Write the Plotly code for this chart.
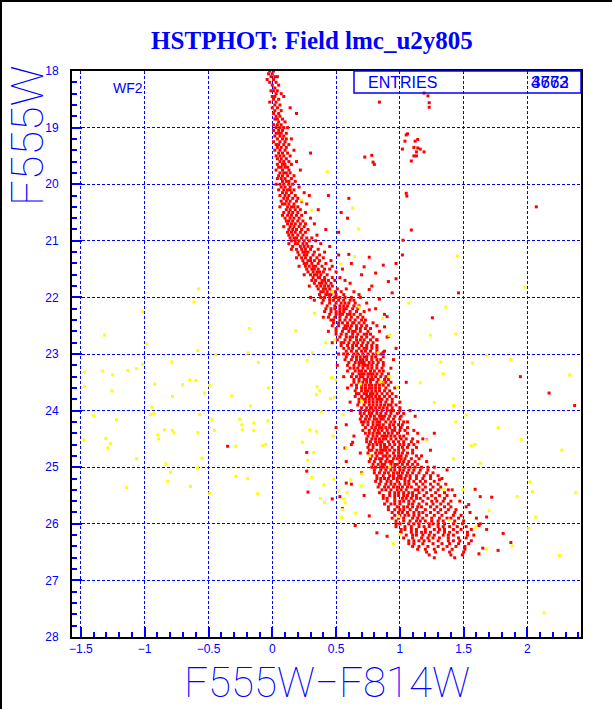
import plotly.graph_objects as go

# ---------------- data ----------------
# main-sequence band: magnitude rows (F555W) and the colours (F555W-F814W) of the red points in each row
band_mags = [
    18.00, 18.05, 18.10, 18.15, 18.20, 18.25, 18.30, 18.35, 18.40, 18.45,
    18.50, 18.55, 18.60, 18.65, 18.70, 18.75, 18.80, 18.85, 18.90, 18.95,
    19.00, 19.05, 19.10, 19.15, 19.20, 19.25, 19.30, 19.35, 19.40, 19.45,
    19.50, 19.55, 19.60, 19.65, 19.70, 19.75, 19.80, 19.85, 19.90, 19.95,
    20.00, 20.05, 20.10, 20.15, 20.20, 20.25, 20.30, 20.35, 20.40, 20.45,
    20.50, 20.55, 20.60, 20.65, 20.70, 20.75, 20.80, 20.85, 20.90, 20.95,
    21.00, 21.05, 21.10, 21.15, 21.20, 21.25, 21.30, 21.35, 21.40, 21.45,
    21.50, 21.55, 21.60, 21.65, 21.70, 21.75, 21.80, 21.85, 21.90, 21.95,
    22.00, 22.05, 22.10, 22.15, 22.20, 22.25, 22.30, 22.35, 22.40, 22.45,
    22.50, 22.55, 22.60, 22.65, 22.70, 22.75, 22.80, 22.85, 22.90, 22.95,
    23.00, 23.05, 23.10, 23.15, 23.20, 23.25, 23.30, 23.35, 23.40, 23.45,
    23.50, 23.55, 23.60, 23.65, 23.70, 23.75, 23.80, 23.85, 23.90, 23.95,
    24.00, 24.05, 24.10, 24.15, 24.20, 24.25, 24.30, 24.35, 24.40, 24.45,
    24.50, 24.55, 24.60, 24.65, 24.70, 24.75, 24.80, 24.85, 24.90, 24.95,
    25.00, 25.05, 25.10, 25.15, 25.20, 25.25, 25.30, 25.35, 25.40, 25.45,
    25.50, 25.55, 25.60, 25.65, 25.70, 25.75, 25.80, 25.85, 25.90, 25.95,
    26.00, 26.05, 26.10, 26.15, 26.20, 26.25, 26.30, 26.35, 26.40, 26.45,
    26.50, 26.55, 26.60,
]

band_colors = [
    # 18.00 - 18.95
    [-0.02, 0.01], [0.0, -0.03], [0.02, -0.01, 0.04], [-0.04, 0.01], [0.03, -0.02],
    [0.0, 0.05], [0.02], [-0.01, 0.04, 0.01], [0.03, 0.07], [0.0, 0.09, 0.02],
    [0.05, 0.01], [0.03, -0.02], [0.06, 0.02], [0.04, 0.14, 0.0], [0.02, 0.07],
    [0.05, 0.19, 0.01], [0.03, 0.06], [0.08, 0.02, 0.04], [0.05, 0.1], [0.01, 0.07, 0.04],
    # 19.00 - 19.95
    [0.03, 0.09, 0.06, 0.12], [0.05, 0.01, 0.08], [0.07, 0.03, 0.11, 0.05], [0.02, 0.09, 0.06],
    [0.08, 0.04, 0.15, 0.11], [0.06, 0.01, 0.1], [0.09, 0.05, 0.13, 0.03], [0.07, 0.11, 0.04],
    [0.1, 0.02, 0.06, 0.17], [0.05, 0.12, 0.08, 0.3], [0.09, 0.03, 0.14, 0.06], [0.11, 0.07, 0.04],
    [0.06, 0.13, 0.09, 0.19], [0.1, 0.04, 0.08, 0.15], [0.07, 0.12, 0.05, 0.1], [0.13, 0.08, 0.03, 0.22],
    [0.09, 0.06, 0.14, 0.11], [0.12, 0.05, 0.08, 0.17], [0.07, 0.15, 0.1, 0.04], [0.11, 0.08, 0.18, 0.13],
    # 20.00 - 20.95
    [0.06, 0.13, 0.09, 0.16, 0.03], [0.1, 0.07, 0.14, 0.21], [0.12, 0.05, 0.17, 0.09, 0.14],
    [0.08, 0.15, 0.11, 0.25], [0.13, 0.06, 0.18, 0.1, 0.44, 0.29], [0.09, 0.16, 0.12, 0.2, 0.6],
    [0.14, 0.07, 0.11, 0.19, 0.23], [0.1, 0.17, 0.13, 0.08, 0.27], [0.15, 0.12, 0.2, 0.06, 0.17],
    [0.11, 0.18, 0.14, 0.22, 0.36], [0.16, 0.09, 0.13, 0.2, 0.54, 0.26], [0.12, 0.19, 0.15, 0.08, 0.23],
    [0.17, 0.14, 0.21, 0.1, 0.59, 0.3], [0.13, 0.2, 0.16, 0.24, 0.11], [0.18, 0.12, 0.15, 0.22, 0.33, 0.26],
    [0.14, 0.21, 0.17, 0.09, 0.25], [0.19, 0.13, 0.23, 0.16, 0.42, 0.28], [0.15, 0.22, 0.18, 0.12, 0.52, 0.26],
    [0.2, 0.16, 0.24, 0.13, 0.35], [0.17, 0.23, 0.19, 0.27, 0.14, 0.31],
    # 21.00 - 21.95
    [0.21, 0.15, 0.25, 0.18, 0.29, 0.34], [0.18, 0.24, 0.2, 0.27, 0.13, 0.38], [0.22, 0.16, 0.28, 0.25, 0.45, 0.31],
    [0.19, 0.26, 0.23, 0.3, 0.36, 0.15], [0.24, 0.2, 0.28, 0.33, 0.26, 0.41], [0.21, 0.27, 0.32, 0.25, 0.52, 0.37],
    [0.26, 0.23, 0.3, 0.35, 0.19, 0.4], [0.28, 0.24, 0.33, 0.37, 0.3, 0.46], [0.25, 0.31, 0.27, 0.36, 0.62, 0.42],
    [0.29, 0.34, 0.26, 0.39, 0.32, 0.47, 0.21], [0.31, 0.27, 0.36, 0.33, 0.41, 0.55, 0.45], [0.28, 0.35, 0.32, 0.4, 0.37, 0.5],
    [0.33, 0.3, 0.38, 0.43, 0.35, 0.7, 0.25], [0.36, 0.32, 0.41, 0.37, 0.47, 0.53], [0.34, 0.39, 0.31, 0.44, 0.41, 0.57, 0.49],
    [0.37, 0.33, 0.42, 0.46, 0.39, 0.61], [0.35, 0.41, 0.38, 0.47, 0.44, 0.78, 0.29], [0.4, 0.36, 0.45, 0.42, 0.51, 0.58],
    [0.38, 0.43, 0.47, 0.4, 0.54, 0.49, 0.64], [0.42, 0.37, 0.46, 0.5, 0.44, 0.56, 0.68],
    # 22.00 - 22.95
    [0.41, 0.49, 0.57, 0.45, 0.53, 0.62, 0.38, 0.50, 0.30, 0.69],
    [0.48, 0.40, 0.56, 0.61, 0.45, 0.52, 0.64, 0.33],
    [0.45, 0.54, 0.60, 0.39, 0.50, 0.65, 0.57, 0.74],
    [0.53, 0.43, 0.59, 0.49, 0.64, 0.56, 0.68],
    [0.42, 0.58, 0.49, 0.63, 0.53, 0.67, 0.46, 0.56, 0.81],
    [0.53, 0.61, 0.46, 0.66, 0.56, 0.41, 0.50, 0.72],
    [0.50, 0.59, 0.45, 0.64, 0.55, 0.69, 0.53, 0.61, 0.88],
    [0.58, 0.49, 0.67, 0.53, 0.62, 0.44, 0.71, 0.40],
    [0.48, 0.65, 0.57, 0.70, 0.53, 0.61, 0.46, 0.73],
    [0.55, 0.63, 0.48, 0.68, 0.59, 0.52, 0.72, 0.79, 0.64],
    [0.52, 0.62, 0.70, 0.57, 0.74, 0.47, 0.66, 0.59, 0.82],
    [0.66, 0.56, 0.73, 0.50, 0.61, 0.69, 0.77, 0.58],
    [0.60, 0.50, 0.69, 0.55, 0.65, 0.75, 0.63, 0.84, 0.44],
    [0.54, 0.72, 0.63, 0.58, 0.77, 0.67, 0.50, 0.74],
    [0.66, 0.58, 0.74, 0.53, 0.63, 0.70, 0.79, 0.61, 0.90],
    [0.61, 0.72, 0.51, 0.66, 0.77, 0.57, 0.69, 0.82],
    [0.56, 0.71, 0.64, 0.79, 0.60, 0.75, 0.67, 0.47, 0.54],
    [0.66, 0.78, 0.59, 0.70, 0.54, 0.74, 0.82, 0.63],
    [0.63, 0.72, 0.56, 0.78, 0.68, 0.82, 0.60, 0.74, 0.97],
    [0.70, 0.58, 0.77, 0.66, 0.82, 0.62, 0.73, 0.88],
    # 23.00 - 23.95
    [0.67, 0.59, 0.75, 0.82, 0.64, 0.71, 0.85, 0.56, 0.79, 0.52],
    [0.63, 0.74, 0.81, 0.69, 0.58, 0.78, 0.66, 0.87, 0.72],
    [0.71, 0.62, 0.78, 0.85, 0.66, 0.74, 0.57, 0.82, 0.69, 0.95],
    [0.60, 0.76, 0.68, 0.83, 0.65, 0.72, 0.79, 0.87, 0.70],
    [0.68, 0.59, 0.75, 0.82, 0.64, 0.78, 0.71, 0.87, 0.51, 0.73],
    [0.75, 0.67, 0.82, 0.61, 0.71, 0.86, 0.78, 0.64, 0.93],
    [0.65, 0.73, 0.80, 0.70, 0.87, 0.59, 0.77, 0.84, 0.68],
    [0.72, 0.63, 0.79, 0.86, 0.68, 0.75, 0.82, 0.91, 0.70, 0.77],
    [0.66, 0.78, 0.71, 0.85, 0.62, 0.75, 0.81, 0.89, 0.56, 0.69],
    [0.74, 0.83, 0.68, 0.79, 0.64, 0.88, 0.72, 0.77, 0.91],
    [0.71, 0.82, 0.64, 0.77, 0.89, 0.74, 0.86, 0.68, 0.93, 1.05],
    [0.78, 0.66, 0.73, 0.87, 0.70, 0.81, 0.91, 0.76, 0.62, 0.84],
    [0.70, 0.81, 0.76, 0.89, 0.66, 0.84, 0.73, 0.96, 0.78, 0.59],
    [0.75, 0.65, 0.84, 0.78, 0.92, 0.70, 0.81, 0.88, 0.73],
    [0.68, 0.79, 0.86, 0.74, 0.94, 0.82, 0.66, 0.77, 0.90, 0.72],
    [0.78, 0.70, 0.84, 0.92, 0.74, 0.81, 0.88, 0.65, 0.97, 0.76],
    [0.73, 0.86, 0.79, 0.68, 0.90, 0.82, 0.76, 0.94, 0.71, 0.84],
    [0.82, 0.68, 0.76, 0.89, 0.79, 0.94, 0.73, 0.85, 1.00, 0.61],
    [0.72, 0.85, 0.79, 0.93, 0.67, 0.88, 0.76, 0.82, 0.97, 0.91],
    [0.78, 0.70, 0.87, 0.81, 0.94, 0.74, 0.84, 0.90, 1.00, 0.77],
    # 24.00 - 24.95
    [0.73, 0.86, 0.79, 0.95, 0.69, 0.90, 0.82, 1.00, 0.76, 0.93, 0.62, 1.08],
    [0.82, 0.72, 0.89, 0.78, 0.98, 0.85, 0.93, 0.69, 1.03, 0.76],
    [0.77, 0.92, 0.84, 0.70, 0.96, 0.80, 0.88, 0.74, 1.01, 0.86, 1.12],
    [0.87, 0.76, 0.82, 0.95, 0.69, 0.91, 0.80, 1.00, 0.73, 0.85],
    [0.72, 0.84, 0.96, 0.79, 0.89, 1.03, 0.75, 0.93, 0.82, 1.06, 0.70],
    [0.82, 0.92, 0.75, 0.87, 0.99, 0.79, 0.95, 0.71, 0.84, 0.58, 1.02],
    [0.78, 0.89, 0.96, 0.73, 0.84, 1.01, 0.81, 0.92, 0.86, 1.06],
    [0.86, 0.76, 0.94, 0.83, 1.00, 0.71, 0.90, 0.80, 1.04, 0.96, 1.11],
    [0.73, 0.84, 0.91, 0.79, 0.98, 0.88, 1.06, 0.82, 0.94, 0.76, 1.14],
    [0.82, 0.90, 0.75, 0.96, 0.86, 1.03, 0.79, 0.93, 1.00, 0.64, 0.88],
    [0.78, 0.89, 0.97, 0.84, 1.05, 0.74, 0.93, 1.01, 0.81, 1.10, 0.87, 1.18],
    [0.86, 0.95, 0.77, 1.03, 0.91, 0.81, 0.99, 1.09, 0.84, 0.74, 1.14],
    [0.82, 0.92, 1.00, 0.76, 0.88, 1.07, 0.96, 0.85, 1.11, 0.79, 0.62, 1.03],
    [0.90, 0.79, 0.99, 0.85, 1.06, 0.94, 0.75, 1.02, 0.88, 1.13],
    [0.76, 0.87, 0.96, 0.82, 1.03, 0.92, 1.10, 0.85, 0.99, 0.78, 1.24, 0.89],
    [0.86, 0.95, 0.81, 1.02, 0.90, 1.10, 0.75, 0.99, 1.06, 0.84, 0.69],
    [0.92, 0.78, 1.01, 0.87, 1.13, 0.96, 0.82, 1.05, 0.89, 1.17, 0.99],
    [0.84, 0.95, 1.04, 0.77, 0.90, 1.09, 0.98, 0.86, 1.15, 0.81, 1.01],
    [0.89, 1.00, 0.80, 0.94, 1.07, 0.85, 1.12, 1.03, 0.76, 0.92, 1.21, 0.58],
    [0.83, 0.98, 0.88, 1.06, 0.93, 1.14, 0.79, 1.02, 1.10, 0.86, 0.96],
    # 25.00 - 25.95
    [0.87, 1.00, 0.81, 1.08, 0.93, 1.17, 1.04, 0.85, 1.12, 0.96, 1.22, 0.90, 0.78, 1.27],
    [0.93, 1.07, 0.85, 1.00, 1.16, 0.89, 1.11, 0.80, 1.03, 1.22, 0.96],
    [0.84, 0.98, 1.15, 0.91, 1.06, 1.21, 0.80, 1.02, 1.10, 0.88, 0.95, 1.26, 0.70],
    [0.92, 1.05, 0.82, 1.13, 0.99, 0.87, 1.19, 1.08, 0.95, 1.24, 1.01, 1.30],
    [0.88, 1.01, 1.13, 0.95, 0.82, 1.08, 1.24, 0.91, 1.18, 1.04, 0.85, 0.98, 1.33],
    [0.98, 0.85, 1.11, 0.93, 1.20, 1.04, 0.81, 1.16, 0.90, 1.07, 1.27],
    [0.93, 1.07, 0.84, 1.18, 1.00, 1.24, 0.89, 1.13, 0.96, 1.30, 1.04, 1.36, 0.62],
    [1.02, 0.88, 1.15, 0.95, 1.09, 1.26, 0.83, 1.20, 0.98, 0.91, 1.06, 1.32],
    [0.86, 0.98, 1.12, 1.24, 0.93, 1.18, 1.05, 1.30, 0.89, 1.01, 1.14, 1.38],
    [0.96, 1.10, 0.84, 1.21, 1.03, 1.28, 0.92, 1.15, 0.99, 1.35, 1.07],
    [0.92, 1.06, 1.19, 0.99, 1.31, 0.87, 1.13, 1.25, 1.03, 1.37, 0.96, 1.10, 1.43, 0.72],
    [1.02, 1.16, 0.90, 1.28, 1.09, 0.96, 1.22, 1.35, 1.05, 0.87, 1.13],
    [0.96, 1.11, 1.25, 1.00, 1.34, 0.90, 1.18, 1.07, 1.40, 1.03, 1.29, 1.47],
    [1.07, 0.93, 1.21, 1.00, 1.32, 1.15, 0.88, 1.26, 1.10, 1.38, 0.96],
    [1.03, 1.17, 0.91, 1.29, 1.10, 1.40, 0.98, 1.24, 1.06, 1.35, 1.14, 1.52],
    [0.96, 1.13, 1.27, 1.03, 1.38, 1.20, 0.91, 1.32, 1.08, 1.44, 1.00],
    [1.11, 0.94, 1.24, 1.02, 1.36, 1.18, 1.43, 1.06, 1.30, 0.99, 1.15, 1.55],
    [1.04, 1.21, 0.96, 1.33, 1.11, 1.42, 1.27, 1.00, 1.15, 1.48, 1.07],
    [0.94, 1.10, 1.25, 1.03, 1.37, 1.18, 1.46, 1.31, 0.99, 1.14, 1.40, 1.60],
    [1.03, 1.20, 1.08, 1.34, 0.97, 1.25, 1.43, 1.13, 1.30, 1.50, 1.16],
    # 26.00 - 26.60
    [1.00, 1.15, 1.30, 1.07, 1.42, 1.23, 1.49, 0.97, 1.35, 1.11, 1.26, 1.63],
    [1.09, 1.23, 1.39, 1.04, 1.30, 1.15, 1.52, 0.97, 1.34, 1.19, 1.45],
    [1.04, 1.20, 1.35, 1.13, 1.48, 1.27, 1.01, 1.42, 1.09, 1.31, 1.56, 1.68],
    [1.17, 1.01, 1.30, 1.09, 1.45, 1.24, 1.39, 1.53, 1.13, 1.35, 1.20],
    [1.10, 1.27, 1.42, 1.05, 1.34, 1.18, 1.53, 1.13, 1.38, 1.23, 1.58],
    [1.17, 1.03, 1.31, 1.46, 1.10, 1.38, 1.22, 1.52, 1.26],
    [1.07, 1.23, 1.38, 1.15, 1.47, 1.30, 1.56, 1.11, 1.42, 1.19],
    [1.18, 1.33, 1.11, 1.46, 1.26, 1.54, 1.39, 1.07],
    [1.15, 1.30, 1.44, 1.22, 1.51, 1.37, 1.10],
    [1.27, 1.14, 1.41, 1.51, 1.34, 1.20],
    [1.21, 1.39, 1.50, 1.28],
    [1.23, 1.40, 1.49],
    [1.27, 1.43],
]

# isolated red stars (giants, outliers)
red_sparse_color = [
    0.84, 0.725, 0.78, 0.79, 0.80, 1.19, 1.22, 1.23, 1.23,
    1.05, 1.06, 1.04, 1.14, 1.12, 1.02, 1.11, 1.14, 1.16, 1.19, 1.13, 1.11, 1.09, 1.13,
    1.05, 1.055, 2.07, 1.09, 1.025, 1.02, 1.46, 1.255, 2.17, 2.37, 1.945,
    0.97, 0.87, 0.76, 0.72, 0.81, 0.91, 0.94, 0.76, 0.6, 0.97,
    0.84, 0.76, 0.9, 0.88, 0.82, 0.91, 0.87,
    0.27, 0.28, 0.47, 0.55, 0.65, 0.76, 0.57, 0.5, 0.63, 0.58, 0.53, 0.82, 0.9, -0.35, 0.27,
    1.27, 1.37, 1.41, 1.21, 1.31,
    1.59, 1.63, 1.68, 1.81, 1.77, 1.62, 1.87, 1.54, 1.62, 1.65, 1.72,
]
red_sparse_mag = [
    18.55, 19.52, 19.49, 19.61, 19.65, 18.39, 18.44, 18.56, 18.64,
    19.13, 19.11, 19.24, 19.21, 19.24, 19.38, 19.35, 19.36, 19.38, 19.43, 19.43, 19.5, 19.59, 19.5,
    20.16, 20.21, 20.4, 20.81, 20.99, 21.25, 21.92, 22.36, 23.69, 23.91, 23.4,
    21.4, 21.43, 21.29, 21.46, 21.57, 21.72, 21.92, 21.86, 21.24, 21.67,
    22.03, 22.22, 22.34, 22.52, 22.75, 22.69, 22.97,
    25.07, 25.44, 25.56, 25.73, 26.03, 25.86, 24.66, 24.3, 24.56, 25.28, 25.52, 26.16, 26.22, 24.63, 24.74,
    24.4, 25.05, 25.4, 24.52, 25.22,
    25.39, 25.52, 25.88, 26.17, 26.47, 26.53, 26.33, 25.66, 26.03, 26.43, 25.53,
]

# yellow points (field stars)
yellow_color = [
    0.43, 0.63, 0.675, 0.31, 0.23, 0.644, 0.537, 0.472, 0.68, 0.864, 0.915, 0.184, 0.49,
    0.464, 0.5, 0.69, 0.83, 0.98, 0.70, 0.853, 0.92,
    1.45, 1.98, 1.07, 1.36, 1.24, 1.44, 1.68, 1.57, 1.87, 2.33, 1.32, 1.34, 1.16, 1.27,
    1.42, 1.52, 1.44, 1.77, 1.95, 1.59, 1.56, 2.27, 1.63, 1.42, 2.02, 2.04, 2.38, 1.92,
    2.065, 1.70, 2.01, 1.68, 1.88, 2.25, 2.13,
    0.33, 0.419, 0.92, 0.273, 0.315, 0.351, 0.372, 0.346, 0.487, 0.456, 0.383, 0.555,
    0.294, 0.346, 0.236, 0.278, 0.325, 0.477, 0.581, 1.208, 0.31, 0.482, 0.701, 0.403,
    0.519, 0.586, 0.377, 0.56, 0.571, 0.55, 0.409, 0.654, 0.545, 1.495, 1.386, 1.595,
    1.344, 1.0, 0.947, 0.99, 0.701, 0.613, 0.92, 0.764,
    -0.578, -0.615, -1.017, -1.315, -0.18, -0.986, -0.584, -0.19, -0.443, -0.108,
    -0.788, -1.017, -1.064, -1.132, -1.33, -1.472, -1.252, -1.472, -1.258, -0.923,
    -0.647, -0.6, -0.704, -0.49, -0.03, -0.531, -0.782, -0.317, -0.944, -0.171,
    -1.399, -0.955, -0.929, -0.568, -1.221, -0.474, -0.255, -0.239, -0.145, -0.035,
    -0.845, -0.782, -0.772, -0.584, -0.453, -0.234, -0.145, -0.897, -0.892, -1.477,
    -1.305, -1.268, -1.289, -0.286, -0.077, -0.051, -1.064, -0.835, -0.552, -0.584,
    -0.798, -0.819, -1.143, -0.641, -0.49, -0.286, -0.192, -0.114,
]
yellow_mag = [
    19.78, 20.42, 20.79, 20.46, 20.28, 21.28, 21.41, 21.9, 22.17, 22.37, 22.67, 22.59, 22.75,
    23.42, 23.46, 23.53, 22.98, 23.58, 23.83, 23.49, 23.4,
    21.27, 21.82, 22.1, 22.17, 22.67, 22.65, 23.02, 23.16, 23.1, 23.37, 23.14, 23.35, 23.51, 23.86,
    23.91, 24.08, 24.2, 24.3, 24.51, 24.6, 24.62, 24.7, 24.93, 24.85, 25.26, 25.43, 25.45, 25.52,
    25.88, 25.77, 26.08, 26.45, 26.39, 26.56, 27.57,
    22.28, 22.8, 22.66, 23.12, 22.98, 23.58, 23.65, 23.72, 23.76, 23.79, 24.02, 24.07,
    24.34, 24.37, 24.56, 24.88, 24.74, 24.45, 24.66, 24.53, 25.18, 25.21, 25.12, 25.31,
    25.42, 25.45, 25.55, 25.56, 25.63, 25.75, 25.62, 25.81, 25.89, 25.4, 25.94, 26.06,
    25.39, 26.19, 26.35, 25.87, 25.33, 25.22, 24.99, 24.8,
    21.85, 22.08, 22.25, 22.67, 22.55, 22.82, 22.94, 22.98, 23.01, 23.15,
    23.14, 23.18, 23.26, 23.29, 23.3, 23.32, 23.37, 23.57, 23.65, 23.53,
    23.46, 23.47, 23.54, 23.56, 23.6, 23.69, 23.75, 23.74, 23.94, 23.92,
    24.09, 24.07, 24.05, 24.07, 24.16, 24.16, 24.15, 24.25, 24.22, 24.18,
    24.34, 24.35, 24.39, 24.39, 24.35, 24.34, 24.35, 24.43, 24.5, 24.52,
    24.49, 24.58, 24.66, 24.63, 24.62, 24.6, 24.85, 24.94, 24.84, 25.01,
    25.09, 25.25, 25.36, 25.34, 25.46, 25.16, 25.2, 25.47,
]

x_ticks = [-1.5, -1, -0.5, 0, 0.5, 1, 1.5, 2]
y_ticks = [18, 19, 20, 21, 22, 23, 24, 25, 26, 27, 28]
entries_a = "4662"
entries_b = "3773"

# ---------------- build ----------------
assert len(band_mags) == len(band_colors)
assert len(red_sparse_color) == len(red_sparse_mag)
assert len(yellow_color) == len(yellow_mag)
red_x = [c for row in band_colors for c in row] + red_sparse_color
red_y = [m for m, row in zip(band_mags, band_colors) for _ in row] + red_sparse_mag

BLUE = "#0000ff"
fig = go.Figure()
fig.add_trace(go.Scatter(x=red_x, y=red_y, mode="markers",
                         marker=dict(symbol="square", size=3, color="#ff0000", line=dict(width=0)),
                         hoverinfo="skip", showlegend=False))
fig.add_trace(go.Scatter(x=yellow_color, y=yellow_mag, mode="markers",
                         marker=dict(symbol="square", size=3, color="#ffff00", line=dict(width=0)),
                         hoverinfo="skip", showlegend=False))

L, R, T, B = 72, 31, 71, 72
W, H = 612, 709
pw, ph = W - L - R, H - T - B


def px(xp):
    return (xp - L) / pw


def py(yp):
    return (H - B - yp) / ph


axis_common = dict(
    showline=True, linecolor="black", linewidth=2, mirror=True,
    showgrid=True, gridcolor=BLUE, gridwidth=1, griddash="3px,2px",
    zeroline=False, ticks="inside", ticklen=10, tickwidth=1.5, tickcolor=BLUE,
    tickfont=dict(family="Liberation Sans", size=12, color=BLUE),
)
fig.update_xaxes(range=[-1.57, 2.42], tickvals=x_ticks,
                 ticktext=[("\u2212" + str(abs(v))) if v < 0 else str(v) for v in x_ticks],
                 minor=dict(dtick=0.1, ticks="inside", ticklen=5, tickcolor=BLUE, showgrid=False),
                 ticklabelstandoff=0, **axis_common)
fig.update_yaxes(range=[28, 18], tickvals=y_ticks,
                 minor=dict(dtick=0.2, ticks="inside", ticklen=5, tickcolor=BLUE, showgrid=False),
                 ticklabelstandoff=9, **axis_common)

fig.update_layout(
    width=W, height=H, margin=dict(l=L, r=R, t=T, b=B),
    plot_bgcolor="white", paper_bgcolor="white",
    title=dict(text="<b>HSTPHOT: Field lmc_u2y805</b>", x=312 / W, xref="container", xanchor="center",
               y=1 - 40 / H, yref="container", yanchor="middle",
               font=dict(family="Liberation Serif", size=25, color=BLUE)),
    shapes=[
        dict(type="rect", xref="paper", yref="paper", x0=px(354), x1=1.0, y0=py(93), y1=1.0,
             line=dict(color=BLUE, width=1.5), fillcolor="rgba(0,0,0,0)"),
        # canvas border (top and left edges)
        dict(type="line", xref="paper", yref="paper", x0=px(1), x1=px(612), y0=py(1), y1=py(1),
             line=dict(color="black", width=2)),
        dict(type="line", xref="paper", yref="paper", x0=px(1), x1=px(1), y0=py(0), y1=py(709),
             line=dict(color="black", width=2)),
    ],
    annotations=[
        dict(text="F555W", xref="paper", yref="paper", x=px(27), y=py(136), textangle=-90,
             xanchor="center", yanchor="middle", showarrow=False,
             font=dict(family="Roboto", weight=100, size=45, color=BLUE)),
        dict(text="F555W\u2212F814W", xref="paper", yref="paper", x=px(327), y=py(708),
             xanchor="center", yanchor="bottom", showarrow=False, borderpad=0,
             font=dict(family="Roboto", weight=100, size=42, color=BLUE)),
        dict(text="WF2", xref="paper", yref="paper", x=px(111), y=py(88),
             xanchor="left", yanchor="middle", showarrow=False,
             font=dict(family="Liberation Sans", size=14, color=BLUE)),
        dict(text="ENTRIES", xref="paper", yref="paper", x=px(366), y=py(82),
             xanchor="left", yanchor="middle", showarrow=False,
             font=dict(family="Liberation Sans", size=16, color=BLUE)),
        dict(text=entries_a, xref="paper", yref="paper", x=px(571), y=py(82),
             xanchor="right", yanchor="middle", showarrow=False,
             font=dict(family="Liberation Sans", size=17, color=BLUE)),
        dict(text=entries_b, xref="paper", yref="paper", x=px(571), y=py(82),
             xanchor="right", yanchor="middle", showarrow=False,
             font=dict(family="Liberation Sans", size=17, color=BLUE)),
    ],
)

fig.write_html("out.html", config={"displayModeBar": False},
               post_script="document.body.style.margin='0';document.body.style.overflow='hidden';")
